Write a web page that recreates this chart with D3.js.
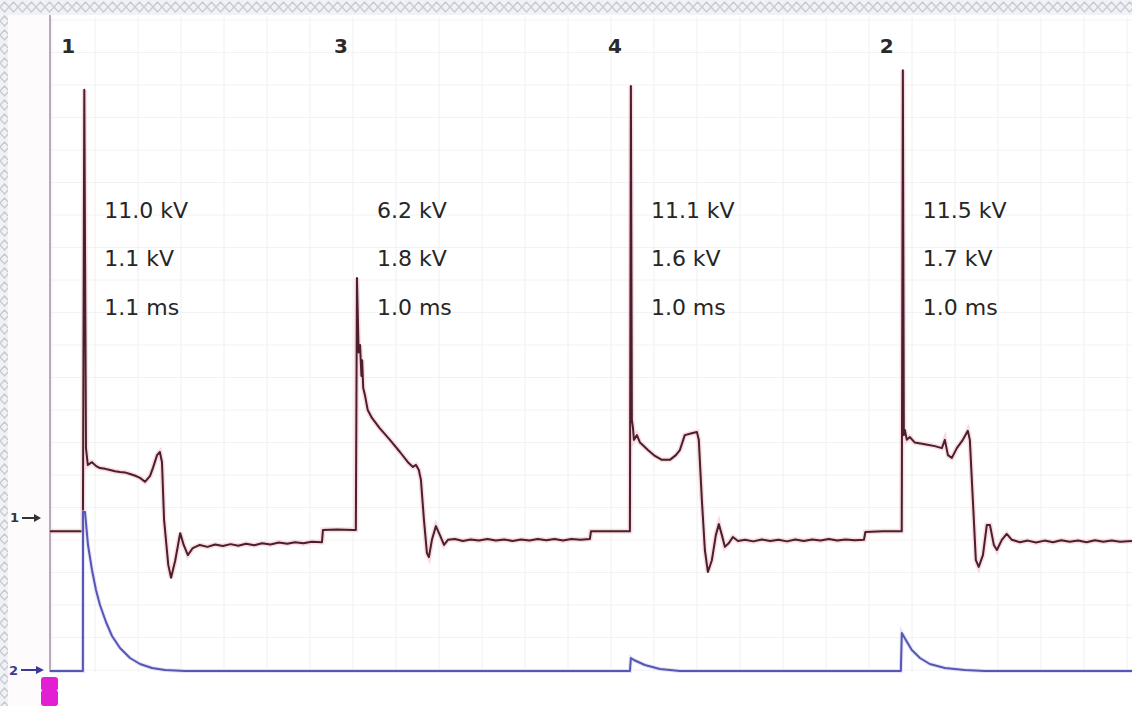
<!DOCTYPE html>
<html>
<head>
<meta charset="utf-8">
<script src="https://cdnjs.cloudflare.com/ajax/libs/d3/7.8.5/d3.min.js"></script>
<style>
  html, body { margin: 0; padding: 0; background: #fff; }
  svg { display: block; }
  text { font-family: "DejaVu Sans", Verdana, sans-serif; }
</style>
</head>
<body>
<svg id="chart" width="1132" height="706"></svg>
<script>
// firing order, spike times (ms) and readouts
var cylinders = ["1", "3", "4", "2"];
var spikeTimes = [0.49, 4.386, 8.3, 12.186];
var firingKV = ["11.0 kV", "6.2 kV", "11.1 kV", "11.5 kV"];
var burnKV = ["1.1 kV", "1.8 kV", "1.6 kV", "1.7 kV"];
var burnTime = ["1.1 ms", "1.0 ms", "1.0 ms", "1.0 ms"];

// secondary ignition voltage, [ms, kV]
var cyl1Trace = [[0, -0.26], [0.47, -0.26], [0.49, 11.0], [0.514, 1.86], [0.54, 1.43], [0.6, 1.5], [0.66, 1.4], [0.714, 1.35],
  [0.79, 1.33], [0.857, 1.3], [0.93, 1.27], [1.0, 1.25], [1.07, 1.24], [1.143, 1.2], [1.21, 1.16], [1.286, 1.1], [1.357, 1.0],
  [1.43, 1.15], [1.47, 1.35], [1.53, 1.68], [1.57, 1.76], [1.6, 1.5], [1.63, 0.03], [1.69, -1.12], [1.73, -1.45], [1.79, -1.0],
  [1.86, -0.31], [1.91, -0.61], [1.97, -0.87], [2.04, -0.69], [2.14, -0.61], [2.25, -0.66], [2.36, -0.6], [2.47, -0.64],
  [2.58, -0.59], [2.69, -0.63], [2.8, -0.58], [2.92, -0.62], [3.03, -0.57], [3.15, -0.6], [3.27, -0.55], [3.39, -0.58],
  [3.5, -0.54], [3.62, -0.57], [3.74, -0.53], [3.886, -0.54], [3.9, -0.23], [4.1, -0.22], [4.33, -0.23], [4.37, -0.23]];
var cyl3Trace = [[4.386, 6.2], [4.41, 4.3], [4.43, 4.49], [4.45, 3.7], [4.46, 4.1], [4.475, 3.4], [4.5, 3.21], [4.54, 2.83],
  [4.6, 2.63], [4.71, 2.37], [4.857, 2.07], [5.0, 1.76], [5.114, 1.5], [5.186, 1.38], [5.23, 1.43], [5.27, 1.3], [5.3, 1.05],
  [5.343, 0.03], [5.386, -0.82], [5.414, -0.92], [5.457, -0.48], [5.514, -0.13], [5.571, -0.36], [5.63, -0.61], [5.686, -0.48],
  [5.786, -0.46], [5.9, -0.51], [6.01, -0.47], [6.13, -0.5], [6.25, -0.46], [6.37, -0.5], [6.49, -0.47], [6.61, -0.51],
  [6.73, -0.47], [6.85, -0.5], [6.97, -0.46], [7.09, -0.49], [7.21, -0.46], [7.33, -0.5], [7.45, -0.46], [7.58, -0.48],
  [7.714, -0.46], [7.73, -0.26], [8.0, -0.26], [8.286, -0.26]];
var cyl4Trace = [[8.3, 11.1], [8.314, 2.58], [8.33, 2.37], [8.343, 2.07], [8.386, 2.19], [8.43, 2.0], [8.543, 1.81],
  [8.643, 1.66], [8.743, 1.56], [8.857, 1.56], [8.943, 1.68], [9.0, 1.81], [9.07, 2.19], [9.17, 2.24], [9.243, 2.27],
  [9.27, 2.07], [9.314, 0.54], [9.357, -0.74], [9.4, -1.3], [9.457, -1.0], [9.514, -0.36], [9.557, -0.08], [9.6, -0.36],
  [9.643, -0.66], [9.7, -0.56], [9.757, -0.41], [9.83, -0.51], [9.93, -0.48], [10.05, -0.52], [10.17, -0.47], [10.29, -0.51],
  [10.41, -0.48], [10.53, -0.52], [10.65, -0.47], [10.77, -0.51], [10.89, -0.47], [11.01, -0.5], [11.13, -0.46], [11.25, -0.5],
  [11.37, -0.47], [11.5, -0.49], [11.63, -0.48], [11.65, -0.28], [11.9, -0.26], [12.17, -0.26]];
var cyl2Trace = [[12.186, 11.5], [12.2, 2.19], [12.214, 2.32], [12.243, 2.07], [12.286, 2.14], [12.357, 2.0], [12.5, 1.96],
  [12.643, 1.91], [12.743, 1.86], [12.786, 2.07], [12.83, 1.68], [12.886, 1.61], [12.957, 1.86], [13.043, 2.07], [13.114, 2.3],
  [13.143, 2.07], [13.186, 0.54], [13.229, -1.0], [13.27, -1.17], [13.33, -0.87], [13.386, -0.1], [13.43, -0.1], [13.486, -0.61],
  [13.53, -0.74], [13.6, -0.48], [13.67, -0.33], [13.743, -0.48], [13.857, -0.54], [13.97, -0.5], [14.09, -0.55], [14.21, -0.5],
  [14.33, -0.54], [14.45, -0.49], [14.57, -0.53], [14.69, -0.5], [14.81, -0.54], [14.93, -0.49], [15.05, -0.53], [15.17, -0.5],
  [15.29, -0.53], [15.46, -0.51]];

// primary current trace, [ms, A]
var currentTrace = [[0, 0], [0.47, 0], [0.472, 7.95], [0.5, 7.95], [0.543, 6.3], [0.6, 5.05], [0.657, 4.05], [0.714, 3.3],
  [0.8, 2.45], [0.886, 1.75], [1.0, 1.15], [1.143, 0.65], [1.286, 0.35], [1.457, 0.15], [1.643, 0.05], [1.93, 0],
  [8.286, 0], [8.3, 0.65], [8.343, 0.55], [8.5, 0.3], [8.714, 0.1], [9.0, 0], [12.157, 0], [12.171, 1.9], [12.229, 1.55],
  [12.314, 1.05], [12.43, 0.65], [12.57, 0.35], [12.786, 0.15], [13.07, 0.05], [13.357, 0], [15.46, 0]];

var W = 1132, H = 706;
var svg = d3.select("#chart");

var x = d3.scaleLinear().domain([0, 15.46]).range([50, 1132]);
var yKV = d3.scaleLinear().domain([0, 10]).range([521, 129]);
var yA = d3.scaleLinear().domain([0, 8]).range([671, 511]);

// decorative border
var defs = svg.append("defs");
var pat = defs.append("pattern").attr("id", "chain").attr("width", 18).attr("height", 14)
  .attr("patternUnits", "userSpaceOnUse");
pat.append("rect").attr("width", 18).attr("height", 14).attr("fill", "#f0f2f5");
pat.append("path").attr("d", "M0,7 L4.5,2 L9,7 L4.5,12 Z M9,7 L13.5,2 L18,7 L13.5,12 Z")
  .attr("fill", "none").attr("stroke", "#c6cbd5").attr("stroke-width", 1.4);
svg.append("rect").attr("width", W).attr("height", H).attr("fill", "url(#chain)");
svg.append("rect").attr("x", 8).attr("y", 15).attr("width", W - 8).attr("height", H - 15).attr("fill", "#ffffff");
svg.append("rect").attr("x", 8).attr("y", 15).attr("width", 42).attr("height", H - 15).attr("fill", "#fefbfd");

// faint grid
var grid = svg.append("g");
d3.range(52, W, 43).forEach(function(gx) {
  grid.append("line").attr("x1", gx).attr("x2", gx).attr("y1", 17).attr("y2", 672)
    .attr("stroke", "#f0f0f3").attr("stroke-width", 1);
});
d3.range(20, 672, 32.5).forEach(function(gy) {
  grid.append("line").attr("x1", 50).attr("x2", W).attr("y1", gy).attr("y2", gy)
    .attr("stroke", "#f2f2f4").attr("stroke-width", 1);
});

// left axis line
svg.append("line").attr("x1", 50).attr("x2", 50).attr("y1", 15).attr("y2", 672)
  .attr("stroke", "#a58aa8").attr("stroke-width", 1.5);

// traces
var kvLine = d3.line().x(function(d) { return x(d[0]); }).y(function(d) { return yKV(d[1]); })
  (cyl1Trace.concat(cyl3Trace, cyl4Trace, cyl2Trace));
svg.append("path").attr("d", kvLine).attr("fill", "none")
  .attr("stroke", "#f3b9c3").attr("stroke-width", 5).attr("stroke-opacity", 0.5);
svg.append("path").attr("d", kvLine).attr("fill", "none")
  .attr("stroke", "#4b1f2b").attr("stroke-width", 2).attr("stroke-linejoin", "round");

var aLine = d3.line().x(function(d) { return x(d[0]); }).y(function(d) { return yA(d[1]); })(currentTrace);
svg.append("path").attr("d", aLine).attr("fill", "none")
  .attr("stroke", "#cfd0f2").attr("stroke-width", 4).attr("stroke-opacity", 0.6);
svg.append("path").attr("d", aLine).attr("fill", "none")
  .attr("stroke", "#5656b4").attr("stroke-width", 2).attr("stroke-linejoin", "round");

// cylinder numbers and readouts
cylinders.forEach(function(c, i) {
  var sx = x(spikeTimes[i]);
  svg.append("text").attr("x", sx - 23).attr("y", 53).attr("font-size", 20).attr("font-weight", "bold")
    .attr("fill", "#2a2a2a").text(c);
  var g = svg.append("g").attr("fill", "#262626").attr("font-size", 22);
  g.append("text").attr("x", sx + 20).attr("y", 218).text(firingKV[i]);
  g.append("text").attr("x", sx + 20).attr("y", 266).text(burnKV[i]);
  g.append("text").attr("x", sx + 20).attr("y", 315).text(burnTime[i]);
});

// channel markers
svg.append("text").attr("x", 10).attr("y", 522).attr("font-size", 13).attr("font-weight", "bold").attr("fill", "#333").text("1");
svg.append("line").attr("x1", 22).attr("x2", 36).attr("y1", 518).attr("y2", 518).attr("stroke", "#333").attr("stroke-width", 2);
svg.append("path").attr("d", "M34,514 L41,518 L34,522 Z").attr("fill", "#333");
svg.append("text").attr("x", 9).attr("y", 675).attr("font-size", 13).attr("font-weight", "bold").attr("fill", "#3a3a90").text("2");
svg.append("line").attr("x1", 21).attr("x2", 38).attr("y1", 670).attr("y2", 670).attr("stroke", "#3a3a90").attr("stroke-width", 2);
svg.append("path").attr("d", "M36,666 L44,670 L36,674 Z").attr("fill", "#3a3a90");
svg.append("rect").attr("x", 41).attr("y", 677).attr("width", 17).attr("height", 14).attr("rx", 3).attr("fill", "#e21fd2");
svg.append("rect").attr("x", 41).attr("y", 690).attr("width", 17).attr("height", 16).attr("rx", 3).attr("fill", "#e21fd2");
</script>
</body>
</html>
